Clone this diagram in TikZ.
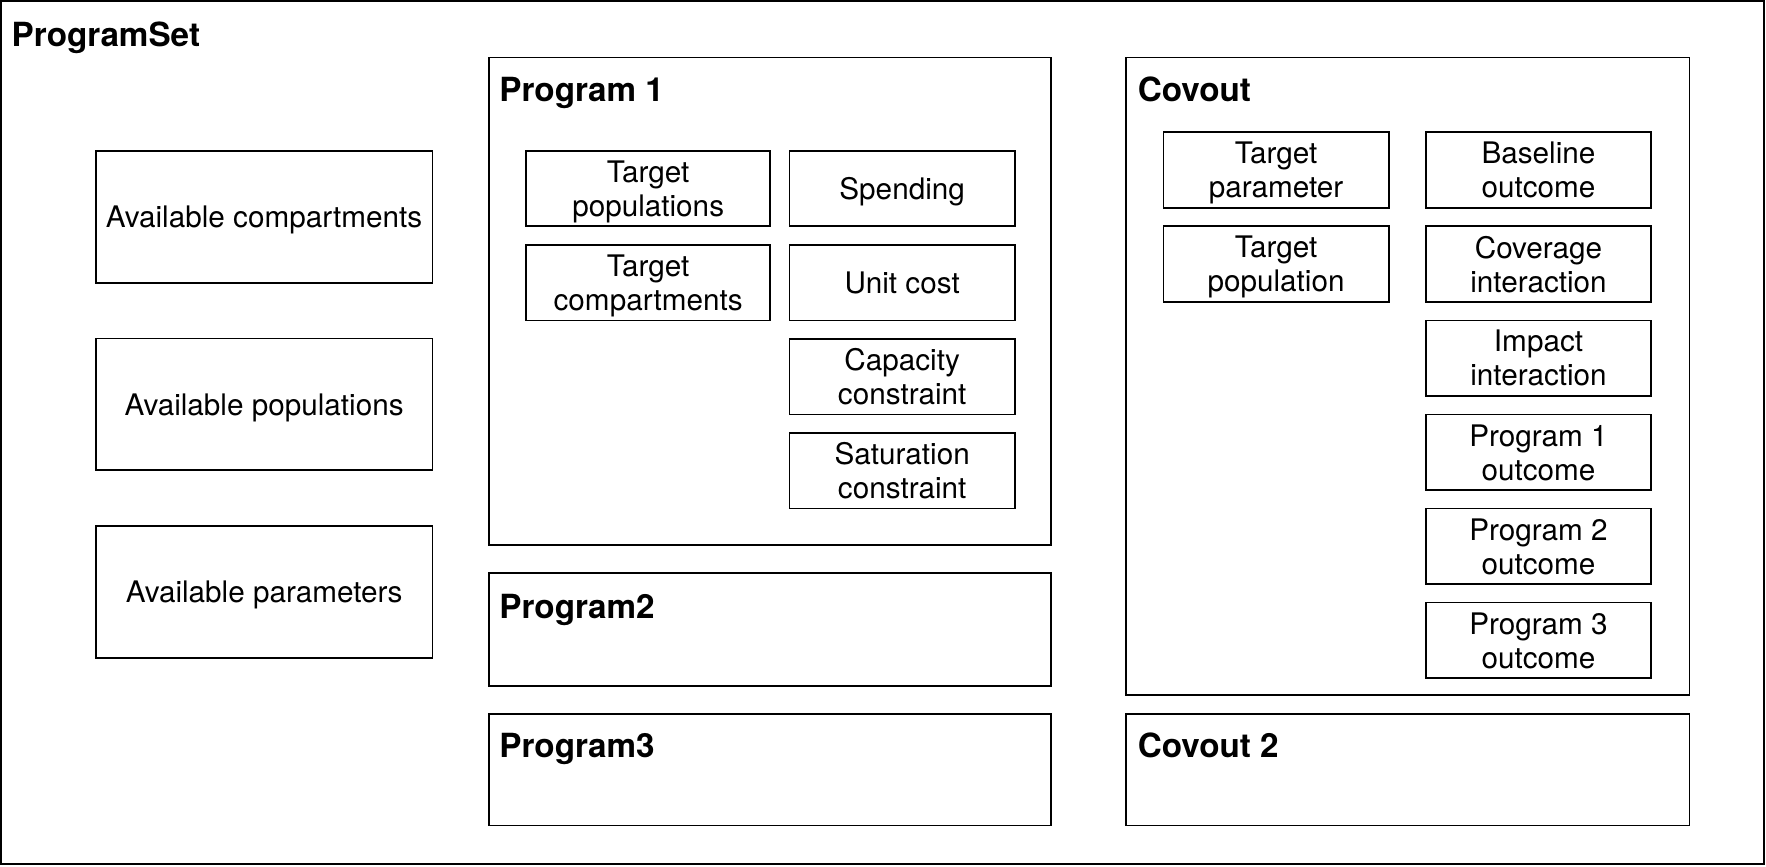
\documentclass[tikz,border=0pt]{standalone}
\usepackage{fontspec}
\setmainfont{TeX Gyre Heros}
\usepackage{tikz}
\usetikzlibrary{positioning}

\tikzset{
  cell/.style={draw=black,line width=.9pt,inner sep=0pt,align=center,text depth=0pt,
    font=\fontsize{15}{17.2}\selectfont},
  frame/.style={draw=black,line width=.9pt,inner sep=0pt},
  title/.style={anchor=base west,inner sep=0pt,font=\fontsize{16.8}{19}\selectfont\bfseries}
}

\begin{document}
\begin{tikzpicture}[x=.2mm,y=-.2mm]
\useasboundingbox (0,0) rectangle (1568,769);
% outer set
\node[frame,minimum width=313mm,minimum height=153.2mm] (pset) at (783.5,384) {};
\node[title] (psettitle) at (10,41) {ProgramSet};
% available lists
\node[cell,minimum width=59.8mm,minimum height=23.4mm] (avcomp) at (234.5,192.5) {Available compartments};
\node[cell,minimum width=59.8mm,minimum height=23.4mm] (avpop) at (234.5,359) {Available populations};
\node[cell,minimum width=59.8mm,minimum height=23.4mm] (avpar) at (234.5,525.5) {Available parameters};
% program 1
\node[frame,minimum width=99.8mm,minimum height=86.6mm] (prog1) at (683.5,267.5) {};
\node[title] (prog1title) at (443,90) {Program 1};
\node[cell,minimum width=43.4mm,minimum height=13.4mm] (tpops) at (575.5,167.5) {Target\\populations};
\node[cell,minimum width=43.4mm,minimum height=13.4mm] (tcomps) at (575.5,251) {Target\\compartments};
\node[cell,minimum width=40mm,minimum height=13.4mm] (spend) at (801,167.5) {Spending};
\node[cell,minimum width=40mm,minimum height=13.4mm] (ucost) at (801,251) {Unit cost};
\node[cell,minimum width=40mm,minimum height=13.4mm] (capcon) at (801,334.5) {Capacity\\constraint};
\node[cell,minimum width=40mm,minimum height=13.4mm] (satcon) at (801,418) {Saturation\\constraint};
% programs 2 and 3
\node[frame,minimum width=99.8mm,minimum height=20mm] (prog2) at (683.5,559) {};
\node[title] (prog2title) at (443,549) {Program2};
\node[frame,minimum width=99.8mm,minimum height=19.8mm] (prog3) at (683.5,683.5) {};
\node[title] (prog3title) at (443,673) {Program3};
% covout
\node[frame,minimum width=100mm,minimum height=113.2mm] (cov1) at (1250,334) {};
\node[title] (cov1title) at (1010,90) {Covout};
\node[cell,minimum width=40mm,minimum height=13.4mm] (tpar) at (1133,151) {Target\\parameter};
\node[cell,minimum width=40mm,minimum height=13.4mm] (tpop) at (1133,234.5) {Target\\population};
\node[cell,minimum width=40mm,minimum height=13.4mm] (baseout) at (1366,151) {Baseline\\outcome};
\node[cell,minimum width=40mm,minimum height=13.4mm] (covint) at (1366,234.5) {Coverage\\interaction};
\node[cell,minimum width=40mm,minimum height=13.4mm] (impint) at (1366,318) {Impact\\interaction};
\node[cell,minimum width=40mm,minimum height=13.4mm] (out1) at (1366,401.5) {Program 1\\outcome};
\node[cell,minimum width=40mm,minimum height=13.4mm] (out2) at (1366,485) {Program 2\\outcome};
\node[cell,minimum width=40mm,minimum height=13.4mm] (out3) at (1366,568.5) {Program 3\\outcome};
% covout 2
\node[frame,minimum width=100mm,minimum height=19.8mm] (cov2) at (1250,683.5) {};
\node[title] (cov2title) at (1010,673) {Covout 2};
\end{tikzpicture}
\end{document}
